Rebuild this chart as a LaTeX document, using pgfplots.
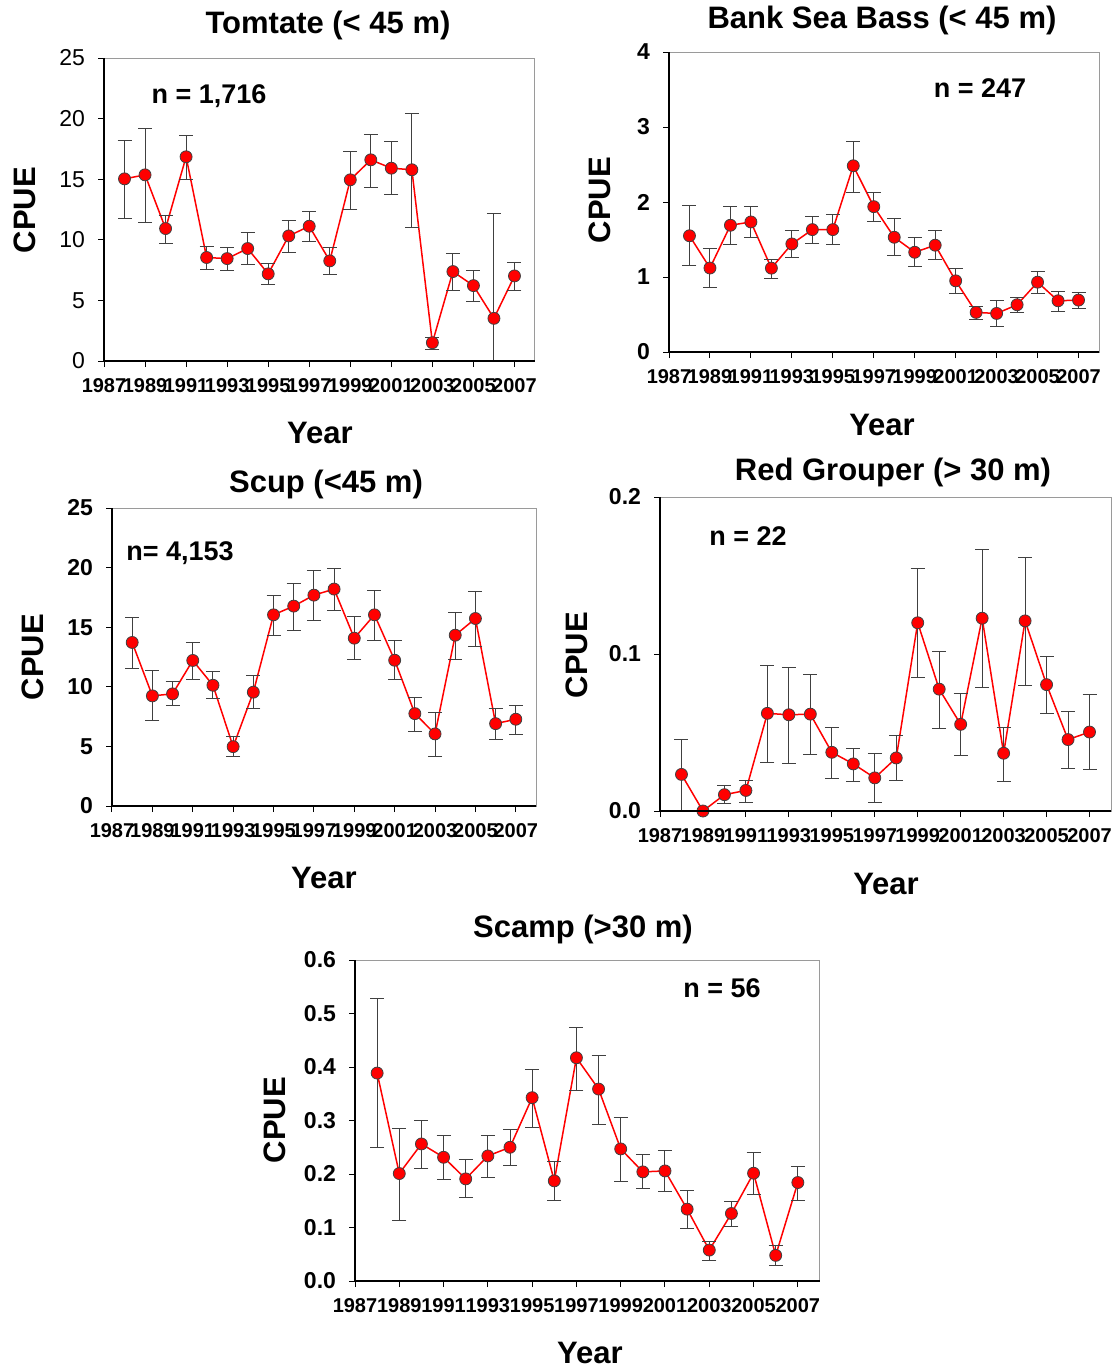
\documentclass[border=0pt]{standalone}
\usepackage{pgfplots}
\pgfplotsset{compat=1.18}
\usepackage{pgfplotstable}
\usepackage{fontspec}
\setmainfont{Liberation Sans}

\definecolor{errgray}{HTML}{404040}
\definecolor{framegray}{HTML}{9A9A9A}

% year, value, lower and upper end of error bar
\pgfplotstableread{
year v lo hi
1988 15.03 11.73 18.23
1989 15.36 11.43 19.22
1990 10.93 9.69 12.00
1991 16.85 14.95 18.64
1992 8.54 7.57 9.44
1993 8.45 7.43 9.36
1994 9.28 7.93 10.63
1995 7.19 6.30 8.04
1996 10.32 8.98 11.56
1997 11.12 9.83 12.36
1998 8.26 7.16 9.36
1999 14.95 12.53 17.29
2000 16.60 14.32 18.72
2001 15.91 13.77 18.09
2002 15.78 11.01 20.46
2003 1.51 0.96 1.93
2004 7.38 5.84 8.87
2005 6.22 4.87 7.46
2006 3.52 0.00 12.20
2007 7.02 5.84 8.09
}\tomtate

\pgfplotstableread{
year v lo hi
1988 1.55 1.15 1.95
1989 1.12 0.865 1.384
1990 1.69 1.432 1.938
1991 1.734 1.521 1.938
1992 1.118 0.976 1.237
1993 1.441 1.259 1.623
1994 1.632 1.450 1.805
1995 1.632 1.432 1.836
1996 2.483 2.129 2.811
1997 1.938 1.734 2.129
1998 1.530 1.282 1.774
1999 1.330 1.140 1.521
2000 1.424 1.24 1.614
2001 0.949 0.776 1.118
2002 0.528 0.435 0.608
2003 0.514 0.341 0.683
2004 0.630 0.532 0.727
2005 0.931 0.785 1.073
2006 0.683 0.545 0.807
2007 0.692 0.585 0.798
}\banksb

\pgfplotstableread{
year v lo hi
1988 13.72 11.51 15.82
1989 9.24 7.14 11.34
1990 9.41 8.40 10.47
1991 12.21 10.58 13.75
1992 10.13 8.99 11.28
1993 4.98 4.17 5.80
1994 9.55 8.15 10.95
1995 16.04 14.31 17.64
1996 16.77 14.70 18.70
1997 17.69 15.57 19.79
1998 18.20 16.43 19.96
1999 14.08 12.29 15.90
2000 16.04 13.89 18.11
2001 12.23 10.58 13.89
2002 7.75 6.21 9.10
2003 6.05 4.17 7.84
2004 14.33 12.29 16.27
2005 15.73 13.41 17.97
2006 6.91 5.60 8.15
2007 7.28 5.99 8.45
}\scup

\pgfplotstableread{
year v lo hi
1988 0.0233 0.0 0.0455
1989 0.0 0.0 0.0
1990 0.0104 0.0047 0.0165
1991 0.0131 0.0053 0.0195
1992 0.0622 0.0311 0.0924
1993 0.0613 0.0300 0.0913
1994 0.0617 0.0362 0.0867
1995 0.0374 0.0209 0.0535
1996 0.0300 0.0190 0.0400
1997 0.0211 0.0053 0.0368
1998 0.0338 0.0197 0.0484
1999 0.1199 0.0848 0.1543
2000 0.0776 0.0524 0.1017
2001 0.0552 0.0355 0.0746
2002 0.1228 0.0789 0.1664
2003 0.0368 0.0190 0.0535
2004 0.1211 0.0799 0.1615
2005 0.0805 0.0619 0.0983
2006 0.0455 0.0271 0.0632
2007 0.0503 0.0262 0.0740
}\redgrouper

\pgfplotstableread{
year v lo hi
1988 0.3887 0.2488 0.5274
1989 0.2009 0.1132 0.2854
1990 0.2562 0.2108 0.2998
1991 0.2313 0.1897 0.2718
1992 0.1909 0.1561 0.2270
1993 0.2338 0.1934 0.2718
1994 0.2500 0.2164 0.2830
1995 0.3427 0.2873 0.3949
1996 0.1872 0.1505 0.2233
1997 0.4173 0.3570 0.4745
1998 0.3588 0.2929 0.4216
1999 0.2469 0.1859 0.3053
2000 0.2040 0.1723 0.2363
2001 0.2058 0.1667 0.2438
2002 0.1343 0.0989 0.1685
2003 0.0578 0.0392 0.0740
2004 0.1262 0.1014 0.1486
2005 0.2015 0.1623 0.2400
2006 0.0479 0.0286 0.0659
2007 0.1841 0.1505 0.2133
}\scamp

\pgfplotsset{
  cpue/.style={
    scale only axis,
    anchor=south west,
    xmin=1987, xmax=2008,
    xtick={1987,1989,...,2007},
    tick align=outside,
    xtick pos=bottom, ytick pos=left,
    major tick length=3pt,
    tick style={black, line width=0.5pt},
    axis line style={draw=framegray, line width=0.5pt},
    /pgf/number format/assume math mode=true,
    x tick label style={font=\bfseries\fontsize{10}{10}\selectfont,
      /pgf/number format/1000 sep={}, yshift=-2pt},
    y tick label style={font=\bfseries\fontsize{11.5}{11.5}\selectfont, xshift=-3pt},
    after end axis/.code={
      \draw[black, line width=0.6pt] (rel axis cs:0,1) -- (rel axis cs:0,0) -- (rel axis cs:1,0);
    },
  },
  series/.style={
    red, line width=0.75pt,
    mark=*, mark size=3pt,
    mark options={fill=red, draw=black!75, line width=0.4pt},
    error bars/.cd, y dir=both, y explicit,
    error bar style={errgray, line width=0.5pt},
    error mark options={rotate=90, errgray, mark size=3.5pt, line width=0.5pt},
  },
}

\tikzset{
  ttl/.style={font=\bfseries\fontsize{15.5}{15.5}\selectfont},
  lab/.style={font=\bfseries\fontsize{15.5}{15.5}\selectfont},
  nlab/.style={font=\bfseries\fontsize{13.5}{13.5}\selectfont},
}

\begin{document}
\begin{tikzpicture}
\useasboundingbox (0,0) rectangle (558pt,-686pt);

% Tomtate
\begin{axis}[cpue, at={(52pt,-180.5pt)}, width=215.5pt, height=151.5pt,
  ymin=0, ymax=25, ytick={0,5,...,25},
  y tick label style={font=\fontsize{11.5}{11.5}\selectfont}]
\addplot[series] table[x=year, y=v,
  y error plus expr=\thisrow{hi}-\thisrow{v},
  y error minus expr=\thisrow{v}-\thisrow{lo}] {\tomtate};
\end{axis}

% Bank Sea Bass
\begin{axis}[cpue, at={(334.5pt,-176pt)}, width=215pt, height=150pt,
  ymin=0, ymax=4, ytick={0,1,...,4}]
\addplot[series] table[x=year, y=v,
  y error plus expr=\thisrow{hi}-\thisrow{v},
  y error minus expr=\thisrow{v}-\thisrow{lo}] {\banksb};
\end{axis}

% Scup
\begin{axis}[cpue, at={(56pt,-403pt)}, width=212pt, height=149pt,
  ymin=0, ymax=25, ytick={0,5,...,25}]
\addplot[series] table[x=year, y=v,
  y error plus expr=\thisrow{hi}-\thisrow{v},
  y error minus expr=\thisrow{v}-\thisrow{lo}] {\scup};
\end{axis}

% Red Grouper
\begin{axis}[cpue, at={(330pt,-405.5pt)}, width=225.5pt, height=157pt,
  ymin=0, ymax=0.2, ytick={0,0.1,0.2},
  yticklabel style={/pgf/number format/.cd, fixed, fixed zerofill, precision=1}]
\addplot[series] table[x=year, y=v,
  y error plus expr=\thisrow{hi}-\thisrow{v},
  y error minus expr=\thisrow{v}-\thisrow{lo}] {\redgrouper};
\end{axis}

% Scamp
\begin{axis}[cpue, at={(177.5pt,-640.5pt)}, width=232.5pt, height=160.5pt,
  ymin=0, ymax=0.6, ytick={0,0.1,...,0.6},
  yticklabel style={/pgf/number format/.cd, fixed, fixed zerofill, precision=1}]
\addplot[series] table[x=year, y=v,
  y error plus expr=\thisrow{hi}-\thisrow{v},
  y error minus expr=\thisrow{v}-\thisrow{lo}] {\scamp};
\end{axis}

% titles
\node[ttl] at (164pt,-12.5pt) {Tomtate (< 45 m)};
\node[ttl] at (441pt,-10pt) {Bank Sea Bass (< 45 m)};
\node[ttl] at (163pt,-242pt) {Scup (<45 m)};
\node[ttl] at (446.5pt,-236pt) {Red Grouper (> 30 m)};
\node[ttl] at (291.5pt,-464.5pt) {Scamp (>30 m)};

% axis labels
\node[lab, rotate=90] at (12.5pt,-105pt) {CPUE};
\node[lab, rotate=90] at (300pt,-100pt) {CPUE};
\node[lab, rotate=90] at (16.5pt,-328.5pt) {CPUE};
\node[lab, rotate=90] at (288.5pt,-327.5pt) {CPUE};
\node[lab, rotate=90] at (137.5pt,-560pt) {CPUE};
\node[lab] at (160pt,-216.5pt) {Year};
\node[lab] at (441pt,-212.5pt) {Year};
\node[lab] at (162pt,-439pt) {Year};
\node[lab] at (443pt,-442pt) {Year};
\node[lab] at (295pt,-676.5pt) {Year};

% sample sizes
\node[nlab] at (104.5pt,-48pt) {n = 1,716};
\node[nlab] at (490pt,-44pt) {n = 247};
\node[nlab] at (90pt,-276.5pt) {n= 4,153};
\node[nlab] at (374pt,-268pt) {n = 22};
\node[nlab] at (361pt,-494pt) {n = 56};
\end{tikzpicture}
\end{document}
